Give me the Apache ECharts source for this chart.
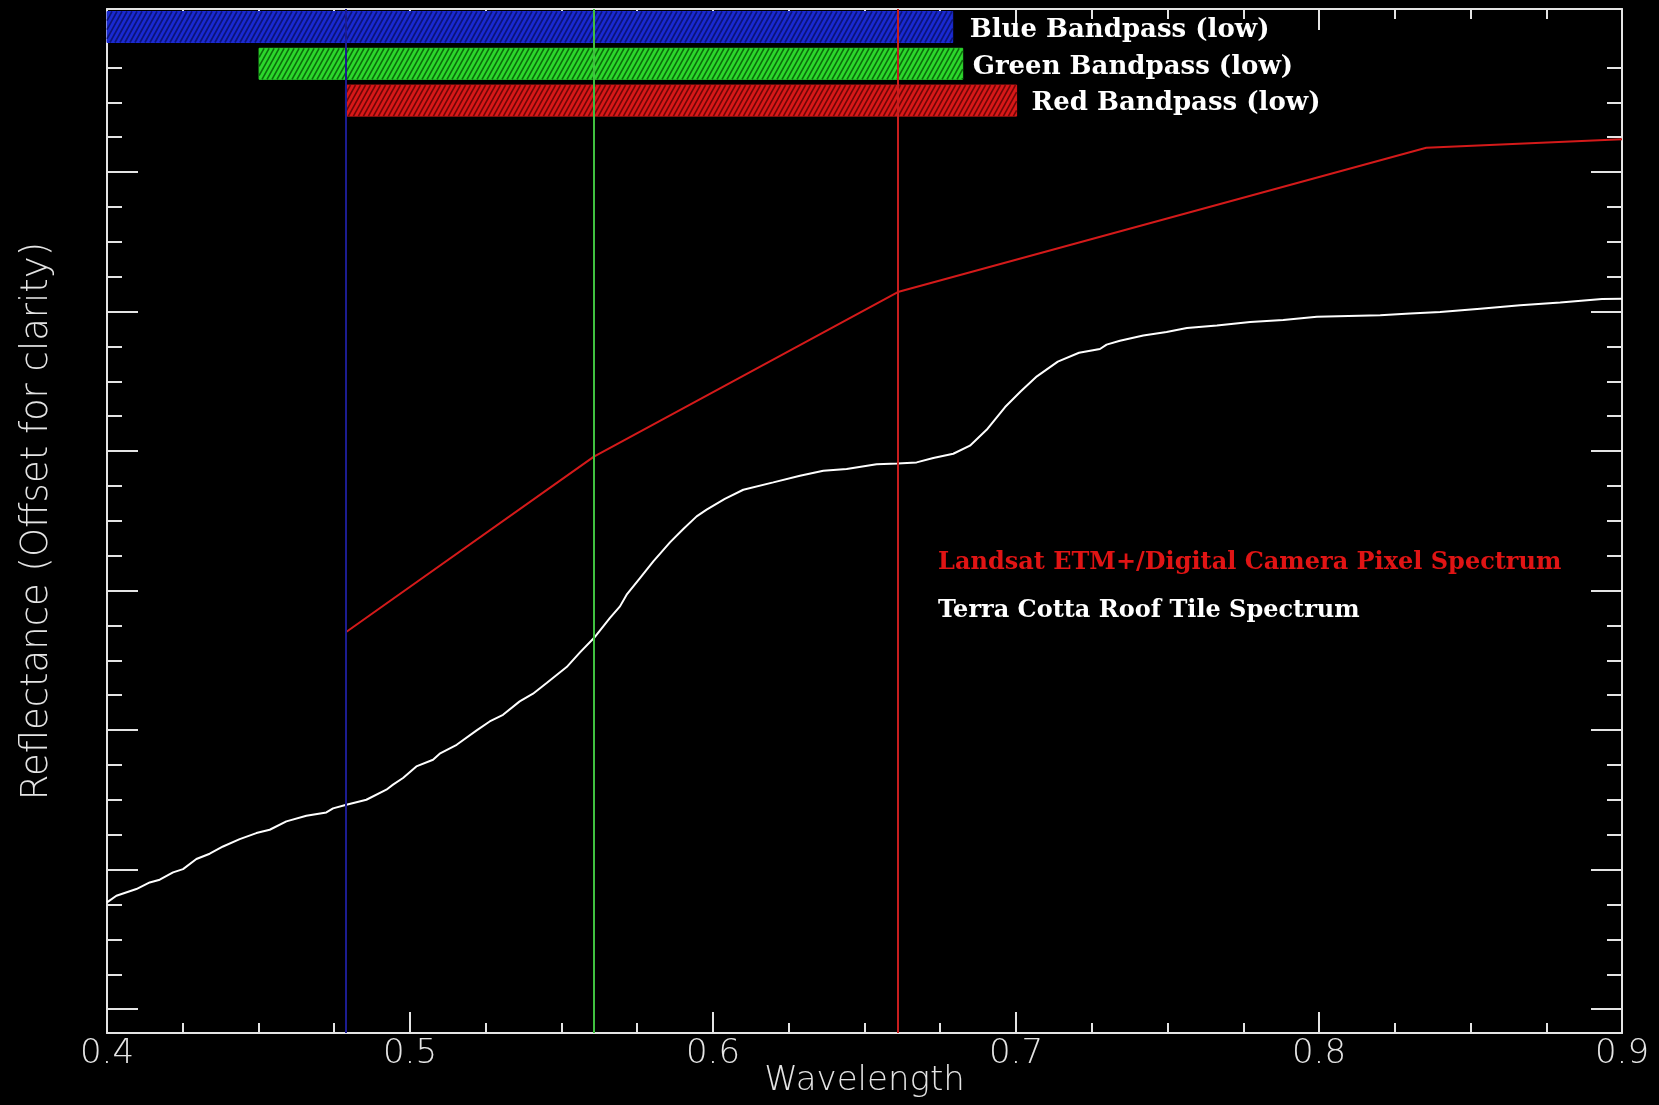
<!DOCTYPE html>
<html>
<head>
<meta charset="utf-8">
<script src="https://cdn.jsdelivr.net/npm/echarts@6/dist/echarts.min.js"></script>
<style>
html,body{margin:0;padding:0;background:#000;}
#chart{width:1659px;height:1105px;}
</style>
</head>
<body>
<div id="chart"></div>
<script>
// ---- data ----
var xTickLabels = ['0.4', '0.5', '0.6', '0.7', '0.8', '0.9'];
var yMajorTicks = [0, 0.1, 0.2, 0.3, 0.4, 0.5, 0.6];

// Terra Cotta roof tile spectrum (wavelength, offset reflectance)
var tileX = [0.4000,0.4031,0.4097,0.4141,0.4174,0.4218,0.4251,0.4295,0.4339,0.4383,0.4438,0.4493,0.4537,0.4592,0.4658,0.4724,0.4746,0.4787,0.4856,0.4922,0.4944,0.4977,0.5021,0.5076,0.5098,0.5154,0.5220,0.5263,0.5307,0.5362,0.5406,0.5451,0.5517,0.5561,0.5607,0.5660,0.5693,0.5715,0.5759,0.5803,0.5858,0.5902,0.5946,0.5979,0.6039,0.6100,0.6199,0.6287,0.6364,0.6441,0.6540,0.6609,0.6672,0.6727,0.6793,0.6848,0.6903,0.6964,0.7016,0.7069,0.7138,0.7208,0.7277,0.7299,0.7343,0.7420,0.7497,0.7564,0.7663,0.7773,0.7882,0.7993,0.8202,0.8301,0.8400,0.8532,0.8664,0.8796,0.8934,0.9000];
var tileY = [0.0765,0.0813,0.0861,0.0908,0.0928,0.0980,0.1004,0.1076,0.1114,0.1166,0.1219,0.1262,0.1286,0.1346,0.1386,0.1410,0.1439,0.1463,0.1501,0.1573,0.1609,0.1657,0.1740,0.1788,0.1831,0.1895,0.1998,0.2062,0.2110,0.2206,0.2261,0.2338,0.2452,0.2557,0.2660,0.2804,0.2887,0.2971,0.3090,0.3209,0.3346,0.3442,0.3532,0.3580,0.3657,0.3723,0.3776,0.3824,0.3859,0.3872,0.3905,0.3912,0.3919,0.3951,0.3981,0.4039,0.4153,0.4316,0.4429,0.4536,0.4641,0.4705,0.4732,0.4763,0.4791,0.4829,0.4854,0.4882,0.4901,0.4925,0.4940,0.4963,0.4973,0.4987,0.4997,0.5021,0.5045,0.5066,0.5090,0.5092];

// Landsat ETM+ / digital camera pixel spectrum
var pixelX = [0.4787, 0.5607, 0.6610, 0.8354, 0.9000];
var pixelY = [0.2700, 0.3960, 0.5140, 0.6175, 0.6236];

// Bandpasses
var bandNames = ['Blue Bandpass (low)', 'Green Bandpass (low)', 'Red Bandpass (low)'];
var bandStart = [0.4000, 0.4502, 0.4787];
var bandEnd = [0.6791, 0.6824, 0.7002];
var bandCenter = [0.4787, 0.5607, 0.6610];

// ---- styles ----
var barFill = ['#1a2ad2', '#2cd82c', '#d81818'];
var hatchColor = ['#0b1478', '#0c6e0c', '#6e0606'];
var labelGap = [17, 10, 15];
var centerLineColor = ['#1c1c90', '#40c040', '#c81e1e'];
var axisColor = '#e4e4e4';
var sansFont = 'DejaVu Sans';
var serifFont = 'DejaVu Serif';

function pairs(xs, ys) { return xs.map(function (x, i) { return [x, ys[i]]; }); }

var chart = echarts.init(document.getElementById('chart'));

function xAxisDef(pos, withLabels) {
  return {
    type: 'value', min: 0.4, max: 0.9, interval: 0.1, position: pos,
    name: withLabels ? 'Wavelength' : '',
    nameLocation: 'middle', nameGap: 31, nameMoveOverlap: false,
    nameTextStyle: { color: axisColor, fontSize: 34, fontFamily: sansFont, fontWeight: 200 },
    axisLine: { show: true, onZero: false, lineStyle: { color: axisColor, width: 2 } },
    axisTick: { show: true, inside: true, length: 21, lineStyle: { color: axisColor, width: 2 } },
    minorTick: { show: true, splitNumber: 4, length: 10, lineStyle: { color: axisColor, width: 2 } },
    axisLabel: {
      show: withLabels, color: axisColor, fontSize: 34, fontFamily: sansFont, fontWeight: 200, margin: 4,
      formatter: function (v) { return xTickLabels[Math.round((v - 0.4) * 10)] || ''; }
    },
    splitLine: { show: false }
  };
}
function yAxisDef(pos, withName) {
  return {
    type: 'value', min: -0.0171, max: 0.7169, splitNumber: 7, position: pos,
    name: withName ? 'Reflectance (Offset for clarity)' : '',
    nameLocation: 'middle', nameGap: 51, nameMoveOverlap: false,
    nameTextStyle: { color: axisColor, fontSize: 37, fontFamily: sansFont, fontWeight: 200 },
    axisLine: { show: true, onZero: false, lineStyle: { color: axisColor, width: 2 } },
    axisTick: { show: true, inside: true, length: 31, customValues: yMajorTicks, lineStyle: { color: axisColor, width: 2 } },
    minorTick: { show: true, splitNumber: 4, length: 15, lineStyle: { color: axisColor, width: 2 } },
    axisLabel: { show: false },
    splitLine: { show: false }
  };
}

var option = {
  backgroundColor: '#000',
  animation: false,
  grid: { left: 107, right: 37, top: 9, bottom: 72, containLabel: false, outerBoundsMode: 'none' },
  xAxis: [xAxisDef('bottom', true), xAxisDef('top', false)],
  yAxis: [yAxisDef('left', true), yAxisDef('right', false)],
  series: [
    {
      type: 'custom', xAxisIndex: 0, yAxisIndex: 0, z: 2,
      data: bandStart.map(function (s, i) { return [s, bandEnd[i]]; }),
      encode: { x: [0, 1] },
      renderItem: function (params, api) {
        var i = params.dataIndex;
        var cs = params.coordSys;
        var x0 = api.coord([api.value(0), 0])[0];
        var x1 = api.coord([api.value(1), 0])[0];
        var h = 31;
        var top = cs.y + 2.5 + i * 36.8;
        var children = [{
          type: 'rect', shape: { x: x0, y: top, width: x1 - x0, height: h },
          style: { fill: barFill[i], stroke: barFill[i], lineWidth: 1 }
        }];
        var run = h * 0.55, sp = 5;
        for (var s = x0 - run; s < x1; s += sp) {
          var t0 = Math.max(0, (x0 - s) / run), t1 = Math.min(1, (x1 - s) / run);
          if (t1 <= t0) continue;
          children.push({
            type: 'line',
            shape: { x1: s + run * t0, y1: top + h - h * t0, x2: s + run * t1, y2: top + h - h * t1 },
            style: { stroke: hatchColor[i], lineWidth: 1.6 }
          });
        }
        children.push({
          type: 'text',
          style: {
            text: bandNames[i], x: x1 + labelGap[i], y: top + h / 2 + 3,
            verticalAlign: 'middle', align: 'left',
            fill: '#ffffff', fontSize: 26, fontWeight: 'bold', fontFamily: serifFont
          }
        });
        return { type: 'group', children: children };
      }
    },
    {
      type: 'line', name: 'Terra Cotta Roof Tile Spectrum', z: 3,
      data: pairs(tileX, tileY), symbol: 'none', smooth: false,
      lineStyle: { color: '#ffffff', width: 2 },
      markLine: {
        silent: true, precision: 4, symbol: ['none', 'none'], label: { show: false },
        data: bandCenter.map(function (v, i) {
          return { xAxis: v, lineStyle: { color: centerLineColor[i], width: 2, type: 'solid' } };
        })
      }
    },
    {
      type: 'line', name: 'Landsat ETM+/Digital Camera Pixel Spectrum', z: 4,
      data: pairs(pixelX, pixelY), symbol: 'none',
      lineStyle: { color: '#d41a1a', width: 2 }
    }
  ],
  graphic: [
    { type: 'text', x: 938, y: 563, style: { text: 'Landsat ETM+/Digital Camera Pixel Spectrum', fill: '#e01414', fontSize: 24, fontWeight: 'bold', fontFamily: serifFont, verticalAlign: 'middle' } },
    { type: 'text', x: 938, y: 611, style: { text: 'Terra Cotta Roof Tile Spectrum', fill: '#ffffff', fontSize: 24, fontWeight: 'bold', fontFamily: serifFont, verticalAlign: 'middle' } }
  ]
};
chart.setOption(option);
</script>
</body>
</html>
